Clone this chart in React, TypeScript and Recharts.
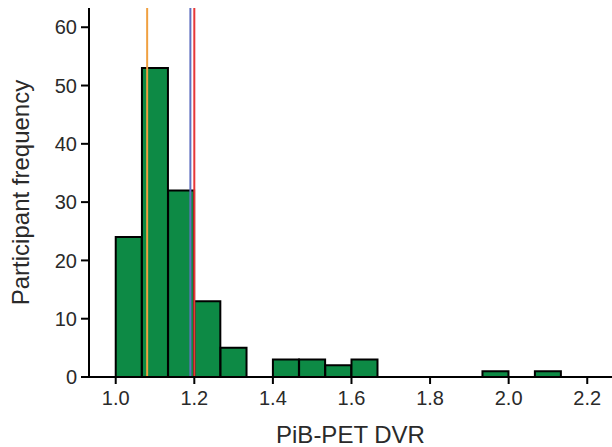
import React from "react";
import { ComposedChart, Bar, XAxis, YAxis, ReferenceLine, Label } from "recharts";

const binStarts = [1.0, 1.0667, 1.1333, 1.2, 1.2667, 1.3333, 1.4, 1.4667, 1.5333, 1.6, 1.6667, 1.7333, 1.8, 1.8667, 1.9333, 2.0, 2.0667];
const binCounts = [24, 53, 32, 13, 5, 0, 3, 3, 2, 3, 0, 0, 0, 0, 1, 0, 1];
const binWidth = 1 / 15;
const xTicks = [1.0, 1.2, 1.4, 1.6, 1.8, 2.0, 2.2];
const yTicks = [0, 10, 20, 30, 40, 50, 60];
const markerValues = [
  { x: 1.08, color: "#f0a040" },
  { x: 1.19, color: "#6070c0" },
  { x: 1.2, color: "#e83838" },
];

const data = binStarts.map((s, i) => ({ mid: s + binWidth / 2, count: binCounts[i] }));

const font = "'Liberation Sans', Arial, Helvetica, sans-serif";

export default function App() {
  return (
    <div style={{ position: "absolute", left: 0, top: 0, background: "#fff" }}>
      <ComposedChart
        width={612}
        height={447}
        data={data}
        margin={{ top: 8, right: 0, bottom: 0, left: 0 }}
        barCategoryGap={0}
        barGap={0}
      >
        <XAxis
          dataKey="mid"
          type="number"
          domain={[0.932, 2.263]}
          ticks={xTicks}
          tickFormatter={(v: number) => v.toFixed(1)}
          allowDataOverflow
          height={70}
          stroke="#000"
          strokeWidth={2}
          tickSize={7}
          tickMargin={7}
          tick={{ fill: "#2a2a2a", fontSize: 20, fontFamily: font }}
        >
          <Label
            value="PiB-PET DVR"
            position="insideBottom"
            offset={4}
            style={{ fill: "#2a2a2a", fontSize: 24, fontFamily: font }}
          />
        </XAxis>
        <YAxis
          type="number"
          domain={[0, 63.3]}
          ticks={yTicks}
          allowDataOverflow
          width={89}
          stroke="#000"
          strokeWidth={2}
          tickSize={8}
          tickMargin={4}
          tick={{ fill: "#2a2a2a", fontSize: 20, fontFamily: font }}
        >
          <Label
            value="Participant frequency"
            angle={-90}
            position="insideLeft"
            offset={20}
            style={{ textAnchor: "middle", fill: "#2a2a2a", fontSize: 24, fontFamily: font }}
          />
        </YAxis>
        <Bar dataKey="count" fill="#0d8a45" stroke="#000" strokeWidth={2} isAnimationActive={false} />
        {markerValues.map((m) => (
          <ReferenceLine key={m.x} x={m.x} stroke={m.color} strokeWidth={2} ifOverflow="visible" />
        ))}
      </ComposedChart>
    </div>
  );
}
